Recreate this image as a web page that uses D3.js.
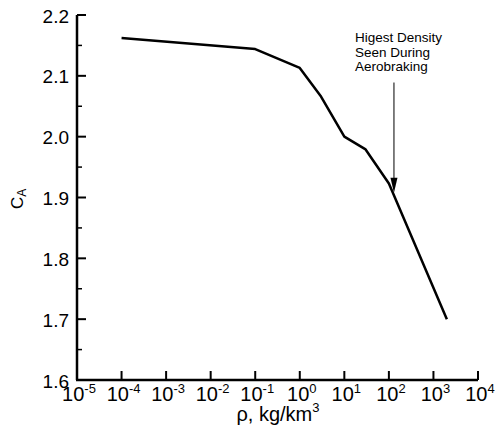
<!DOCTYPE html>
<meta charset="utf-8">
<script src="https://d3js.org/d3.v7.min.js"></script>
<style>
  body { margin: 0; background: #fff; }
  text { font-family: "Liberation Sans", Arial, sans-serif; fill: #000; }
</style>
<div id="chart"></div>
<script>
// density (kg/km^3) vs axial force coefficient
var rho = [1e-4, 1e-1, 1, 3, 10, 30, 100, 2000];
var ca  = [2.162, 2.144, 2.113, 2.066, 2.000, 1.979, 1.923, 1.700];
var xTicks = [-5, -4, -3, -2, -1, 0, 1, 2, 3, 4];   // exponents
var yTicks = [1.6, 1.7, 1.8, 1.9, 2.0, 2.1, 2.2];
var yMinor = [1.65, 1.75, 1.85, 1.95, 2.05, 2.15];
var arrowRho = 130, arrowTop = 2.089, arrowTip = 1.908;
var note = ["Higest Density", "Seen During", "Aerobraking"];

var W = 497, H = 431;
var svg = d3.select("#chart").append("svg")
    .attr("width", W).attr("height", H);

var x = d3.scaleLog().domain([1e-5, 1e4]).range([77, 478]);
var y = d3.scaleLinear().domain([1.6, 2.2]).range([380, 15]);

// axes lines
svg.append("line")
    .attr("x1", x(1e-5)).attr("x2", x(1e-5))
    .attr("y1", y(2.2)).attr("y2", y(1.6))
    .attr("stroke", "#000").attr("stroke-width", 2.5);
svg.append("line")
    .attr("x1", x(1e-5) - 1).attr("x2", x(1e4))
    .attr("y1", y(1.6)).attr("y2", y(1.6))
    .attr("stroke", "#000").attr("stroke-width", 2.5);

// y ticks (pointing inward)
svg.append("g").selectAll("line").data(yTicks).enter().append("line")
    .attr("x1", x(1e-5)).attr("x2", x(1e-5) + 9)
    .attr("y1", function(d) { return y(d); })
    .attr("y2", function(d) { return y(d); })
    .attr("stroke", "#000").attr("stroke-width", 2);
svg.append("g").selectAll("line").data(yMinor).enter().append("line")
    .attr("x1", x(1e-5)).attr("x2", x(1e-5) + 5)
    .attr("y1", function(d) { return y(d); })
    .attr("y2", function(d) { return y(d); })
    .attr("stroke", "#000").attr("stroke-width", 1.5);
svg.append("g").selectAll("text").data(yTicks).enter().append("text")
    .attr("x", 69)
    .attr("y", function(d) { return y(d) + 7.5; })
    .attr("text-anchor", "end")
    .style("font-size", "19px")
    .text(function(d) { return d.toFixed(1); });

// x ticks
svg.append("g").selectAll("line").data(xTicks).enter().append("line")
    .attr("x1", function(d) { return x(Math.pow(10, d)); })
    .attr("x2", function(d) { return x(Math.pow(10, d)); })
    .attr("y1", y(1.6)).attr("y2", y(1.6) - 9)
    .attr("stroke", "#000").attr("stroke-width", 2);
var xl = svg.append("g").selectAll("text").data(xTicks).enter().append("text")
    .attr("x", function(d) { return x(Math.pow(10, d)) + 2; })
    .attr("y", 401)
    .attr("text-anchor", "middle")
    .style("font-size", "20px");
xl.append("tspan").text("10");
xl.append("tspan").attr("dy", -8).style("font-size", "13px")
    .text(function(d) { return d; });

// axis titles
var xt = svg.append("text")
    .attr("x", 278).attr("y", 421)
    .attr("text-anchor", "middle")
    .style("font-size", "20px");
xt.append("tspan").text("\u03c1, kg/km");
xt.append("tspan").attr("dy", -9).style("font-size", "13px").text("3");

var yt = svg.append("text")
    .attr("transform", "translate(23,209) rotate(-90)")
    .style("font-size", "17px");
yt.append("tspan").text("C");
yt.append("tspan").attr("dy", 3).style("font-size", "12px").text("A");

// data line
var line = d3.line()
    .x(function(d) { return x(d[0]); })
    .y(function(d) { return y(d[1]); });
svg.append("path")
    .datum(rho.map(function(r, i) { return [r, ca[i]]; }))
    .attr("d", line)
    .attr("fill", "none")
    .attr("stroke", "#000")
    .attr("stroke-width", 2.5)
    .attr("stroke-linejoin", "round");

// annotation arrow
var ax = x(arrowRho);
svg.append("line")
    .attr("x1", ax).attr("x2", ax)
    .attr("y1", y(arrowTop)).attr("y2", y(arrowTip) - 12)
    .attr("stroke", "#000").attr("stroke-width", 1);
svg.append("path")
    .attr("d", "M" + (ax - 3.5) + "," + (y(arrowTip) - 15) +
               "L" + (ax + 3.5) + "," + (y(arrowTip) - 15) +
               "L" + ax + "," + y(arrowTip) + "Z")
    .attr("fill", "#000");
svg.append("g").selectAll("text").data(note).enter().append("text")
    .attr("x", 355)
    .attr("y", function(d, i) { return 42 + i * 14.5; })
    .style("font-size", "13.5px")
    .text(function(d) { return d; });
</script>
